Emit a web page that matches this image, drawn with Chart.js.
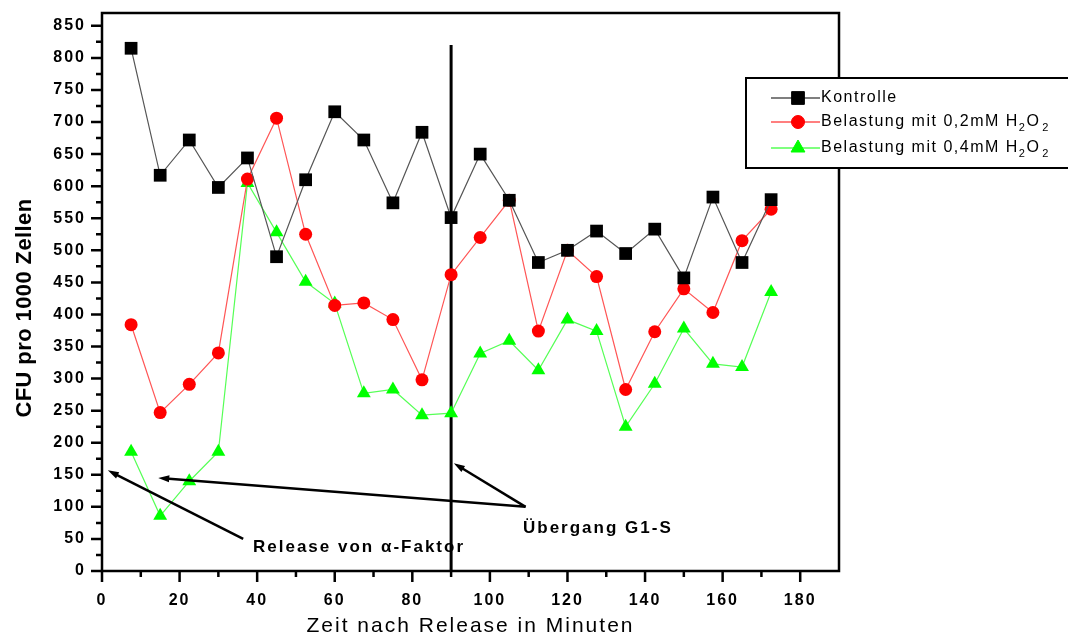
<!DOCTYPE html>
<html>
<head>
<meta charset="utf-8">
<title>CFU pro 1000 Zellen</title>
<script src="https://cdn.jsdelivr.net/npm/chart.js@4.4.1/dist/chart.umd.min.js"></script>
<style>
  html, body { margin: 0; padding: 0; background: #fff; }
  #wrap { width: 1068px; height: 640px; }
</style>
</head>
<body>
<div id="wrap"><canvas id="cfuChart" width="1068" height="640"></canvas></div>
<script>
// Data
const minutes = [7.5, 15, 22.5, 30, 37.5, 45, 52.5, 60, 67.5, 75, 82.5, 90, 97.5, 105, 112.5, 120, 127.5, 135, 142.5, 150, 157.5, 165, 172.5];
const kontrolle = [815, 617, 672, 598, 644, 490, 610, 716, 672, 574, 684, 551, 650, 578, 481, 500, 530, 495, 533, 457, 583, 481, 579];
const belastung02 = [384, 247, 291, 340, 611, 706, 525, 414, 418, 392, 298, 462, 520, 578, 374, 500, 459, 283, 373, 440, 403, 515, 564];
const belastung04 = [186, 86, 140, 186, 605, 528, 451, 417, 277, 283, 243, 246, 339, 359, 313, 392, 374, 225, 292, 378, 323, 318, 435];
const seriesLabels = ['Kontrolle', 'Belastung mit 0,2mM H2O2', 'Belastung mit 0,4mM H2O2'];
const xTicks = [0, 20, 40, 60, 80, 100, 120, 140, 160, 180];
const yTicks = [0, 50, 100, 150, 200, 250, 300, 350, 400, 450, 500, 550, 600, 650, 700, 750, 800, 850];

// Annotations (in data units)
const transitionMinute = 90;
const transitionTop = 820;

const FONT = "'Liberation Sans', Arial, sans-serif";

function toPoints(values) {
    return minutes.map(function(m, i) { return { x: m, y: values[i] }; });
}

// Draws "...H2O2" with subscripted digits
function drawChemLabel(ctx, text, x, y) {
    const m = text.match(/^(.*H)2O2$/);
    ctx.textAlign = 'left';
    ctx.textBaseline = 'middle';
    ctx.font = '16px ' + FONT;
    if (!m) {
        ctx.fillText(text, x, y);
        return;
    }
    ctx.fillText(m[1], x, y);
    x += ctx.measureText(m[1]).width;
    ctx.font = '11px ' + FONT;
    ctx.fillText('2', x, y + 6);
    x += ctx.measureText('2').width;
    ctx.font = '16px ' + FONT;
    ctx.fillText('O', x, y);
    x += ctx.measureText('O').width + 2;
    ctx.font = '11px ' + FONT;
    ctx.fillText('2', x, y + 6);
}

function drawArrow(ctx, x1, y1, x2, y2) {
    const ang = Math.atan2(y2 - y1, x2 - x1);
    const head = 11;
    ctx.beginPath();
    ctx.moveTo(x1, y1);
    ctx.lineTo(x2 - Math.cos(ang) * head * 0.7, y2 - Math.sin(ang) * head * 0.7);
    ctx.stroke();
    ctx.beginPath();
    ctx.moveTo(x2, y2);
    ctx.lineTo(x2 - head * Math.cos(ang) + 3.5 * Math.sin(ang), y2 - head * Math.sin(ang) - 3.5 * Math.cos(ang));
    ctx.lineTo(x2 - head * Math.cos(ang) - 3.5 * Math.sin(ang), y2 - head * Math.sin(ang) + 3.5 * Math.cos(ang));
    ctx.closePath();
    ctx.fill();
}

// Frame, ticks, annotations and legend
const decorPlugin = {
    id: 'decor',
    beforeDraw: function(chart) {
        // the original uses widely spaced lettering
        chart.ctx.letterSpacing = '2px';
    },
    beforeDatasetsDraw: function(chart) {
        const ctx = chart.ctx;
        const xs = chart.scales.x;
        const ys = chart.scales.y;
        ctx.save();
        ctx.strokeStyle = '#000';
        ctx.lineWidth = 3;
        const vx = xs.getPixelForValue(transitionMinute);
        ctx.beginPath();
        ctx.moveTo(vx, ys.getPixelForValue(0));
        ctx.lineTo(vx, ys.getPixelForValue(transitionTop));
        ctx.stroke();
        ctx.restore();
    },
    afterDraw: function(chart) {
        const ctx = chart.ctx;
        const area = chart.chartArea;
        const xs = chart.scales.x;
        const ys = chart.scales.y;
        ctx.save();

        // frame
        ctx.strokeStyle = '#000';
        ctx.lineWidth = 2.5;
        ctx.strokeRect(area.left, area.top, area.right - area.left, area.bottom - area.top);

        // y ticks (major + minor)
        ctx.beginPath();
        for (let v = 0; v <= 850; v += 25) {
            const py = ys.getPixelForValue(v);
            const len = v % 50 === 0 ? 11 : 6;
            ctx.moveTo(area.left, py);
            ctx.lineTo(area.left - len, py);
        }
        // x ticks (major + minor)
        for (let v = 0; v <= 180; v += 10) {
            const px = xs.getPixelForValue(v);
            const len = v % 20 === 0 ? 11 : 6;
            ctx.moveTo(px, area.bottom);
            ctx.lineTo(px, area.bottom + len);
        }
        ctx.stroke();

        // y title
        ctx.save();
        ctx.translate(25, 308);
        ctx.rotate(-Math.PI / 2);
        ctx.font = 'bold 22px ' + FONT;
        ctx.letterSpacing = '0.4px';
        ctx.textAlign = 'center';
        ctx.textBaseline = 'middle';
        ctx.fillStyle = '#000';
        ctx.fillText('CFU pro 1000 Zellen', 0, 0);
        ctx.restore();

        // arrows
        ctx.strokeStyle = '#000';
        ctx.fillStyle = '#000';
        ctx.lineWidth = 2.5;
        drawArrow(ctx, xs.getPixelForValue(36.4), ys.getPixelForValue(50), xs.getPixelForValue(1.5), ys.getPixelForValue(157));
        drawArrow(ctx, xs.getPixelForValue(109.2), ys.getPixelForValue(100), xs.getPixelForValue(90.7), ys.getPixelForValue(168));
        drawArrow(ctx, xs.getPixelForValue(109.2), ys.getPixelForValue(100), xs.getPixelForValue(14.5), ys.getPixelForValue(145));

        // annotation texts
        ctx.font = 'bold 17px ' + FONT;
        ctx.letterSpacing = '2px';
        ctx.textAlign = 'left';
        ctx.textBaseline = 'middle';
        ctx.fillText('Release von \u03b1-Faktor', 253, 547);
        ctx.fillText('\u00dcbergang G1-S', 523, 528);

        // legend
        ctx.fillStyle = '#fff';
        ctx.fillRect(746, 78, 330, 90);
        ctx.strokeStyle = '#000';
        ctx.lineWidth = 2;
        ctx.strokeRect(746, 78, 330, 90);
        ctx.letterSpacing = '1.5px';
        const rowsY = [98, 122, 148];
        chart.data.datasets.forEach(function(ds, i) {
            const y = rowsY[i];
            ctx.strokeStyle = ds.borderColor;
            ctx.lineWidth = 1.5;
            ctx.beginPath();
            ctx.moveTo(771, y);
            ctx.lineTo(820, y);
            ctx.stroke();
            ctx.fillStyle = ds.pointBackgroundColor;
            ctx.strokeStyle = ds.pointBackgroundColor;
            ctx.lineWidth = 1;
            Chart.helpers.drawPoint(ctx, { pointStyle: ds.pointStyle, radius: ds.pointRadius, borderWidth: 1, rotation: 0 }, 798, y);
            ctx.fillStyle = '#000';
            drawChemLabel(ctx, ds.label, 821, y);
        });

        ctx.restore();
        ctx.letterSpacing = '0px';
    }
};

const ctx = document.getElementById('cfuChart');
const cfuChart = new Chart(ctx, {
    type: 'line',
    data: {
        datasets: [{
            label: seriesLabels[0],
            data: toPoints(kontrolle),
            borderColor: '#555555',
            borderWidth: 1.2,
            pointStyle: 'rect',
            pointRadius: 9,
            pointBackgroundColor: '#000',
            pointBorderColor: '#000',
            pointBorderWidth: 0
        }, {
            label: seriesLabels[1],
            data: toPoints(belastung02),
            borderColor: '#ff5555',
            borderWidth: 1.2,
            pointStyle: 'circle',
            pointRadius: 6.5,
            pointBackgroundColor: '#ff0000',
            pointBorderColor: '#ff0000',
            pointBorderWidth: 0
        }, {
            label: seriesLabels[2],
            data: toPoints(belastung04),
            borderColor: '#55ff55',
            borderWidth: 1.2,
            pointStyle: 'triangle',
            pointRadius: 8,
            pointBackgroundColor: '#00ff00',
            pointBorderColor: '#00ff00',
            pointBorderWidth: 0
        }]
    },
    options: {
        responsive: false,
        animation: false,
        layout: { padding: { left: 0, right: 229, top: 13, bottom: 0 } },
        plugins: {
            legend: { display: false },
            tooltip: { enabled: false }
        },
        elements: { line: { tension: 0 } },
        scales: {
            x: {
                type: 'linear',
                min: 0,
                max: 190,
                afterBuildTicks: function(scale) {
                    scale.ticks = xTicks.map(function(v) { return { value: v }; });
                },
                afterFit: function(scale) {
                    scale.height = 69;
                    scale.paddingLeft = 0;
                    scale.paddingRight = 0;
                },
                grid: { display: false, drawTicks: false },
                border: { display: false },
                ticks: {
                    color: '#000',
                    padding: 20,
                    maxRotation: 0,
                    font: { family: FONT, size: 16, weight: 'bold' }
                },
                title: {
                    display: true,
                    text: 'Zeit nach Release in Minuten',
                    color: '#000',
                    padding: { top: 0, bottom: 1 },
                    font: { family: FONT, size: 21 }
                }
            },
            y: {
                type: 'linear',
                min: 0,
                max: 870,
                afterBuildTicks: function(scale) {
                    scale.ticks = yTicks.map(function(v) { return { value: v }; });
                },
                afterFit: function(scale) {
                    scale.width = 102;
                    scale.paddingTop = 0;
                    scale.paddingBottom = 0;
                },
                grid: { display: false, drawTicks: false },
                border: { display: false },
                ticks: {
                    color: '#000',
                    padding: 16,
                    font: { family: FONT, size: 16, weight: 'bold' }
                }
            }
        }
    },
    plugins: [decorPlugin]
});
</script>
</body>
</html>
